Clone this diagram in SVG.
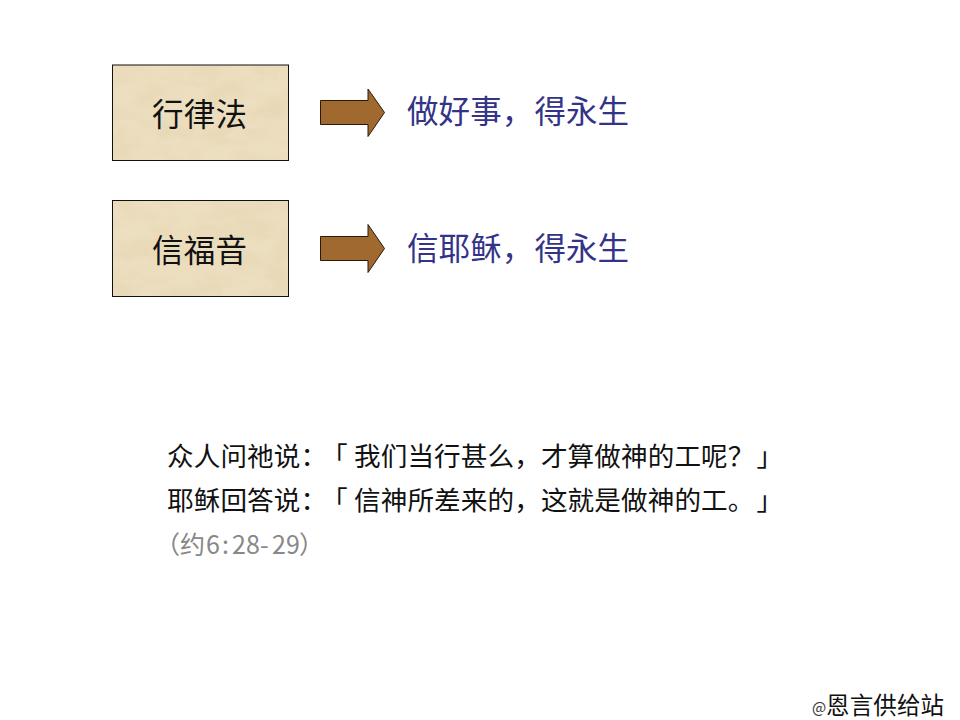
<svg xmlns="http://www.w3.org/2000/svg" width="960" height="720" viewBox="0 0 960 720">
<style>
text{font-family:"Noto Sans CJK SC","Noto Sans CJK TC",sans-serif}
.box{fill:#ecdfc0;stroke:none}
.tex{filter:url(#paper)}
.frame{fill:none;stroke:#111;stroke-width:1}
.arrow{fill:#a0692f;stroke:#2a1a08;stroke-width:1}
.t{font-size:31.5px;fill:#111}
.b{font-size:31.5px;fill:#333388}
.q{font-size:26.6px;fill:#111}
</style>
<defs>
<filter id="paper" x="0" y="0" width="100%" height="100%">
<feTurbulence type="fractalNoise" baseFrequency="0.03 0.05" numOctaves="5" seed="11" result="n"/>
<feColorMatrix in="n" type="matrix" values="0 0 0 0 0.80  0 0 0 0 0.69  0 0 0 0 0.47  1.8 1.3 0 0 -1.2"/>
<feComposite operator="in" in2="SourceGraphic" result="c"/>
<feMerge><feMergeNode in="SourceGraphic"/><feMergeNode in="c"/></feMerge>
</filter>
</defs>
<rect width="960" height="720" fill="#fff"/>
<g id="node-law">
<rect class="box tex" x="112.500" y="65" width="176" height="95.500"/>
<rect class="frame" x="112.500" y="65" width="176" height="95.500"/>
<text class="t" x="152" y="126" textLength="95">行律法</text>
</g>
<g id="node-gospel">
<rect class="box tex" x="112.500" y="200.500" width="176" height="96"/>
<rect class="frame" x="112.500" y="200.500" width="176" height="96"/>
<text class="t" x="152" y="262" textLength="95">信福音</text>
</g>
<g id="connectors">
<path class="arrow" d="M320.500 100.500H368V89L384.500 112.500L368 136.500V124.500H320.500Z"/>
<path class="arrow" d="M320.500 236.500H368V224.500L384.500 248.500L368 272.500V260.500H320.500Z"/>
</g>
<g id="result-law"><text class="b" x="407 438.600 470.200 501.800 534.400 566 597.600" y="123">做好事，得永生</text></g>
<g id="result-gospel"><text class="b" x="407 438.600 470.200 501.800 534.400 566 597.600" y="260">信耶稣，得永生</text></g>
<g id="quote">
<text class="q" x="167 193.700 220.400 247.100 273.800 300.500 321 354 380.700 407.400 434.100 460.800 487.500 514.200 540.900 567.600 594.300 621 647.700 674.400 701.100 727.800 756.500" y="466">众人问祂说：「我们当行甚么，才算做神的工呢？」</text>
<text class="q" x="167 193.700 220.400 247.100 273.800 300.500 321 354 380.700 407.400 434.100 460.800 487.500 514.200 540.900 567.600 594.300 621 647.700 674.400 701.100 727.800 756.500" y="510">耶稣回答说：「信神所差来的，这就是做神的工。」</text>
<text x="155 180 206 222 232 246 260 272 286 299" y="554" font-size="25" fill="#888">（约6:28-29）</text>
</g>
<g id="credit">
<text x="812" y="713" font-size="15" fill="#333">@</text>
<text x="826" y="714" font-size="23.500" fill="#111" textLength="118">恩言供给站</text>
</g>
</svg>
